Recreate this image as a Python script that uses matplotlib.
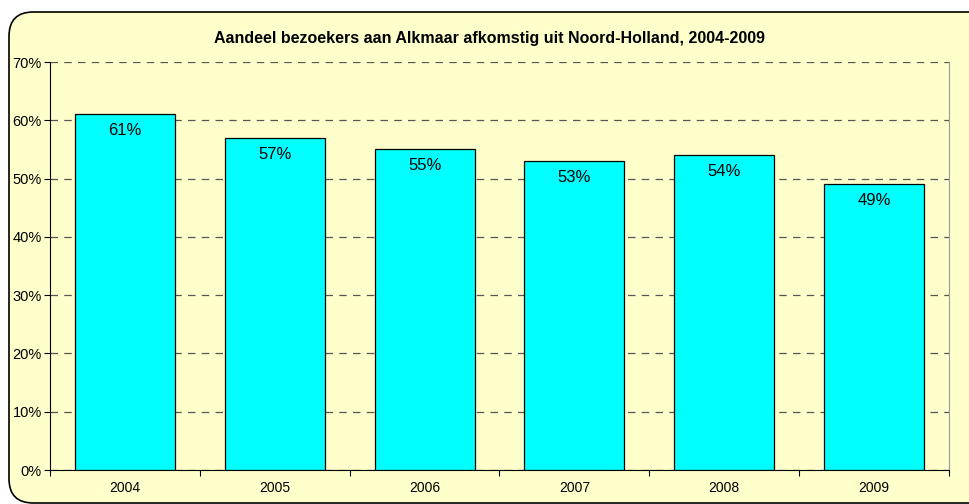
import matplotlib
matplotlib.use("Agg")
import matplotlib.pyplot as plt
from matplotlib.patches import FancyBboxPatch
from matplotlib.ticker import PercentFormatter

years = ["2004", "2005", "2006", "2007", "2008", "2009"]
values = [61, 57, 55, 53, 54, 49]
labels = ["61%", "57%", "55%", "53%", "54%", "49%"]
yticks = [0, 10, 20, 30, 40, 50, 60, 70]

plt.rcParams['font.family'] = ['Liberation Sans', 'DejaVu Sans']
bg = '#FFFFCC'

fig = plt.figure(figsize=(9.7, 5.04), dpi=100)
fig.patch.set_facecolor('white')
frame = FancyBboxPatch((9/970, 1/504), 1.05, 1 - 13/504,
                       boxstyle="round,pad=0,rounding_size=0.025",
                       transform=fig.transFigure, facecolor=bg,
                       edgecolor='black', linewidth=1.2,
                       mutation_aspect=970/504, zorder=-10)
fig.patches.append(frame)

ax = fig.add_axes([50/970, 1 - 470/504, 899/970, 408/504])
ax.set_zorder(5)
ax.set_facecolor(bg)
x = list(range(len(years)))
bars = ax.bar(x, values, width=0.667, color='#00FFFF', edgecolor='black', linewidth=0.9, zorder=3)
for xi, v, lab in zip(x, values, labels):
    ax.text(xi, v - 1.5, lab, ha='center', va='top', fontsize=12, zorder=4)

ax.set_xlim(-0.5, len(years) - 0.5)
ax.set_ylim(0, 70)
ax.set_yticks(yticks)
ax.yaxis.set_major_formatter(PercentFormatter(decimals=0))
ax.set_xticks([i + 0.5 for i in range(-1, len(years))], minor=False)
ax.set_xticklabels([])
ax.set_xticks(x, minor=True)
ax.set_xticklabels(years, minor=True)
ax.tick_params(axis='x', which='minor', length=0, labelsize=10, pad=8)
ax.tick_params(axis='x', which='major', length=4, direction='out')
ax.tick_params(axis='y', labelsize=10.5, length=4, direction='out', pad=2)
ax.grid(axis='y', linestyle=(0, (6, 5)), color='#555555', linewidth=0.9, zorder=1)
ax.spines['top'].set_visible(False)
ax.spines['right'].set_color('#999999')
ax.spines['left'].set_color('black')
ax.spines['bottom'].set_color('black')

fig.text(490/970, 1 - 39/504, "Aandeel bezoekers aan Alkmaar afkomstig uit Noord-Holland, 2004-2009",
         ha='center', va='center', fontsize=11.5, fontweight='bold')

fig.savefig("out.png", dpi=100, facecolor=fig.get_facecolor())
